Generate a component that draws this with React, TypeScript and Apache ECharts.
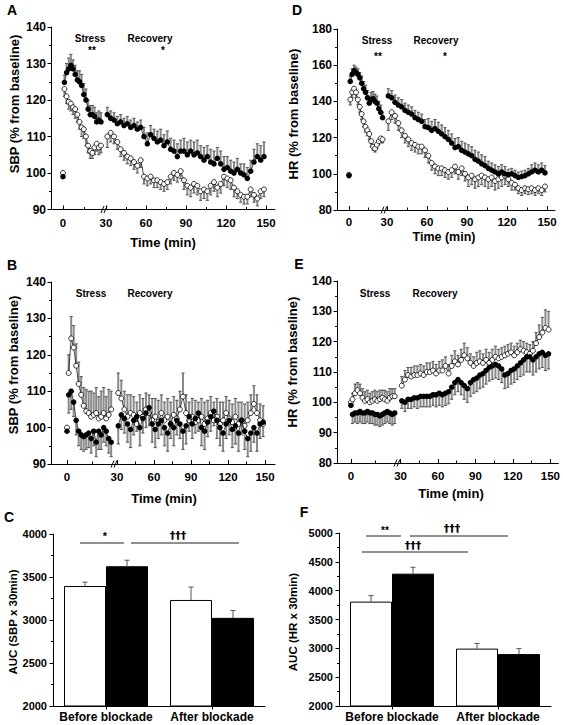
import React, { useEffect, useRef } from "react";
import * as echarts from "echarts";

const FONT = "'Liberation Sans', Arial, Helvetica, sans-serif";
const DAGGER_FONT = "'DejaVu Sans', 'Noto Sans', sans-serif";

// ---------- shared time axes (min) ----------
const stressTimes = [1, 2.5, 4, 5.5, 7, 8.5, 10, 11.5, 13, 14.5, 16, 17.5, 19, 20.5, 22, 23.5, 25, 26.5];
const recoveryTimes = [31, 33.5, 36, 38.5, 41, 43.5, 46, 48.5, 51, 53.5, 56, 58.5, 61, 63.5, 66, 68.5, 71, 73.5, 76, 78.5,
  81, 83.5, 86, 88.5, 91, 93.5, 96, 98.5, 101, 103.5, 106, 108.5, 111, 113.5, 116, 118.5, 121, 123.5, 126, 128.5,
  131, 133.5, 136, 138.5, 141, 143.5, 146, 148.5];
const timeTicks = [0, 30, 60, 90, 120, 150];
const timeMinorTicks = [15, 45, 75, 105, 135];

// ---------- Panel A: SBP before blockade ----------
const aBaseline = [100, 99]; // open, filled
const aOpenStress = [123, 121, 119.5, 119, 118, 117.5, 116, 114, 112.5, 112, 110, 107.5, 106, 105.5, 107, 108, 107, 107.5];
const aOpenStressErr = [2, 2, 2, 2, 2, 2.5, 2, 2, 2.5, 2.5, 2.5, 2, 2, 1.5, 2, 2, 2, 2];
const aFilledStress = [124.8, 127.5, 128.5, 129.5, 128.5, 127, 125.5, 125, 124, 121.5, 120, 117.5, 116, 116, 115.5, 114, 114.5, 114];
const aFilledStressErr = [2, 2.5, 3, 3, 2.5, 2.5, 2.5, 3, 3, 3, 3, 2.5, 2.5, 2.5, 2.5, 2.5, 2.5, 2.5];
const aOpenRec = [110, 111, 110, 108.5, 106.5, 105.5, 104.5, 104, 103, 102, 103.5, 99, 98.5, 99, 98, 98, 97.5, 97, 97.5, 99,
  100, 99.5, 100.5, 98, 96.5, 96, 97, 96.5, 95, 95.5, 95, 96.5, 97.5, 96, 97, 99, 98.5, 98, 96, 95,
  94, 93.5, 93.5, 95.5, 94, 93, 95, 95.5];
const aOpenRecErr = [3, 2.5, 2, 2, 2, 2, 2, 2, 2, 2, 2, 2, 2, 2, 2, 2, 2, 2, 2, 2,
  2, 2, 2, 2.5, 2.5, 2.5, 2.5, 2.5, 2.5, 2.5, 2.5, 2.5, 2.5, 2.5, 2.5, 2.5, 2.5, 2.5, 2.5, 2,
  2, 2, 2, 2, 2, 2, 2, 2];
const aFilledRec = [116, 115, 114.5, 113.5, 114, 113, 113.5, 112.5, 113, 112, 112.5, 110, 108, 110.5, 109.5, 108.5, 109, 107.5, 108.5, 106.5,
  106, 104.5, 106, 106, 105, 106, 105, 105.5, 104.5, 103.5, 104.5, 103, 102.5, 104, 102.5, 101, 101.5, 100.5, 100, 101,
  100, 99.5, 98.5, 100.5, 103, 104.5, 103.5, 104.5];
const aFilledRecErr = [2, 2, 2, 2, 2, 2, 2, 2, 2, 2, 2, 2.5, 3, 2.5, 2.5, 3, 3, 3, 3, 3,
  3, 3.5, 3, 3.5, 3.5, 3, 3.5, 3.5, 3, 3.5, 3, 3.5, 3.5, 3, 3.5, 3.5, 3, 3, 3, 3,
  2.5, 3, 3, 3, 3.5, 3.5, 4, 4];

// ---------- Panel D: HR before blockade ----------
const dBaseline = [99.5, 99];
const dOpenStress = [141, 145, 147, 145, 141, 137, 133, 129, 126, 124, 122, 118, 115, 114, 116, 118, 119.5, 119];
const dOpenStressErr = [3, 3, 3, 3, 3, 3, 3, 3, 3, 3, 3, 3, 2, 2, 2, 2, 2, 2];
const dFilledStress = [151, 155, 157, 156, 155, 153, 150, 147, 145, 142, 139, 141, 141.5, 140, 139, 136, 134, 131];
const dFilledStressErr = [3, 3, 3, 3, 3, 3, 4, 4, 4, 4, 4, 4, 4, 4, 4, 4, 4, 3];
const dOpenRec = [129, 134, 132, 128, 124, 121, 119, 117, 116, 115, 115, 113, 110, 106, 104, 103, 103, 102, 101, 102,
  104, 101, 103, 100, 98, 99, 97, 98, 99, 98, 97, 98, 96, 97, 98, 99, 97, 95, 94, 92,
  91, 92, 91.5, 92, 91, 92, 91, 93];
const dOpenRecErr = [5, 4, 4, 4, 4, 4, 4, 4, 4, 4, 4, 4, 4, 4, 4, 4, 4, 4, 4, 4,
  4, 4, 4, 4, 5, 5, 5, 5, 5, 5, 5, 5, 5, 5, 5, 5, 4, 4, 3, 3,
  3, 3, 3, 3, 3, 3, 3, 3];
const dFilledRec = [143, 142, 139.5, 138, 137, 135, 134, 133, 131, 130, 129, 126, 125.5, 124, 125, 123.5, 122, 120.5, 119, 117,
  114.5, 115, 113, 112, 111, 110, 108, 107, 105.5, 104.5, 103, 102, 101, 100, 101, 100, 99.5, 100, 99, 98,
  98.5, 99, 100, 101, 102, 101, 102, 100.5];
const dFilledRecErr = [4, 4, 4, 4, 4, 4, 4, 4, 4, 4, 4, 4, 5, 5, 5, 5, 5, 5, 5, 5,
  5, 5, 5, 5, 5, 5, 5, 5, 5, 5, 4, 4, 4, 4, 4, 4, 3, 3, 3, 3,
  3, 3, 3, 4, 4, 4, 4, 4];

// ---------- Panel B: SBP after blockade ----------
const bBaseline = [100, 99];
const bOpenStress = [115, 124.5, 122, 117, 112, 109, 106, 104.5, 104, 103, 103.5, 104, 102.5, 103, 104, 102.5, 103.5, 105];
const bOpenStressErr = [5, 6, 6, 6, 6, 5, 5, 6, 6, 7, 6, 7, 6, 7, 7, 6, 7, 5];
const bFilledStress = [109, 110, 107, 102, 99, 98, 97.5, 98, 98.5, 97, 99, 96, 99, 98, 100, 99, 97, 96];
const bFilledStressErr = [5, 5, 4, 4, 4, 4, 4, 4, 4, 4, 4, 4, 5, 4, 4, 4, 4, 4];
const bOpenRec = [109.5, 108, 105, 103, 104, 103.5, 101, 104, 103, 105, 104, 102, 103, 101.5, 104, 102, 103, 101, 103.5, 102.5,
  105, 108.5, 104, 102, 103, 101.5, 102, 103, 101, 102.5, 104, 102, 103, 101, 102, 104, 102.5, 101.5, 103, 101,
  102, 100.5, 102, 104, 106.5, 104, 102, 101];
const bOpenRecErr = [5.5, 5, 5, 6, 5, 5, 6, 5, 5, 4.5, 5, 6, 5, 6, 5, 5, 5, 6, 5, 5,
  5, 6.5, 5, 5, 5, 6, 5, 5, 6, 5, 4.5, 5, 5, 6, 5, 4.5, 5, 5, 5, 6,
  5, 6, 5, 5, 5, 5, 4.5, 5];
const bFilledRec = [100.5, 103.5, 102.5, 101, 99.5, 102, 103, 100, 102.5, 104, 105.5, 101, 99.5, 101, 102, 100, 98.5, 101, 100, 102,
  101, 99, 100.5, 103, 101, 102.5, 104, 100, 99, 101.5, 103, 104.5, 102, 100, 98.5, 101, 102, 99.5, 100.5, 98.5,
  102, 99, 97, 98.5, 100, 98.5, 101, 101.5];
const bFilledRecErr = [5, 4, 4, 5, 5, 4, 4, 5, 4, 4, 5, 5, 5, 4, 4, 5, 5, 4, 5, 4,
  4, 5, 5, 4, 4, 4, 5, 5, 5, 4, 4, 4, 5, 5, 5, 4, 4, 5, 5, 5,
  4, 5, 5, 5, 4, 5, 4, 4];

// ---------- Panel E: HR after blockade ----------
const eBaseline = [100, 99];
const eOpenStress = [101, 103, 104, 103, 101.5, 100.5, 101, 100, 100.5, 101, 100.5, 101, 101.5, 101, 100.5, 101.5, 102, 102];
const eOpenStressErr = [2, 3, 2.5, 3, 3, 3, 3, 3, 3, 3, 3, 3, 2.5, 3, 3, 3, 2.5, 2.5];
const eFilledStress = [96, 96.5, 96.5, 97, 96.5, 96.5, 97, 96.5, 96.5, 96, 96, 95.5, 96, 96.5, 97, 96.5, 96, 96.5];
const eFilledStressErr = [3, 3, 3.5, 3.5, 3.5, 3.5, 3.5, 3.5, 3.5, 3.5, 3.5, 3.5, 3.5, 3.5, 3.5, 3.5, 3.5, 3.5];
const eOpenRec = [105.5, 107.5, 109, 108.5, 109, 109, 109.5, 109, 110, 110, 110.5, 109.5, 110.5, 110.5, 112, 109.5, 112, 113.5, 112.5, 114,
  115.5, 114.5, 113, 112, 113, 113.5, 113, 114, 113, 114, 115, 114.5, 115, 115.5, 116, 116.5, 115.5, 116.5, 117.5, 117,
  116.5, 116, 117, 119.5, 121.5, 123, 124.5, 124];
const eOpenRecErr = [3, 3, 2.5, 3, 3, 3, 3, 3, 3, 3, 3, 3, 3, 3.5, 3, 3, 3.5, 3.5, 3, 3.5,
  4, 3.5, 3, 3, 3.5, 3.5, 3, 3.5, 3.5, 3.5, 3.5, 3, 3, 3, 3, 3, 3, 3, 3, 3,
  3, 3, 3, 3.5, 4, 5, 6, 6];
const eFilledRec = [100.5, 100, 101, 101, 101.5, 101.5, 102, 102, 102, 102, 102.5, 102.5, 103, 102.5, 103, 103.5, 105, 106.5, 107.5, 106.5,
  105.5, 104.5, 106.5, 107.5, 108, 109, 109.5, 110.5, 111.5, 112, 112.5, 112, 111, 109, 109.5, 110.5, 111, 112, 113, 114,
  115, 115, 114, 115, 116, 116.5, 115.5, 116];
const eFilledRecErr = [2.5, 3, 3, 3, 3, 3.5, 3.5, 3.5, 3.5, 3.5, 3.5, 4, 4, 4, 4, 4, 4, 4, 4, 4,
  4.5, 4.5, 4.5, 4.5, 4.5, 4.5, 4.5, 4.5, 4.5, 4.5, 4.5, 4.5, 4.5, 4.5, 4.5, 4.5, 4.5, 4.5, 4.5, 5,
  5, 5, 5, 5, 5, 5, 5, 5];

// ---------- Panels C & F: AUC bars ----------
const barCategories = ["Before blockade", "After blockade"];
const cWhite = [3395, 3233];
const cWhiteErr = [45, 150];
const cBlack = [3625, 3025];
const cBlackErr = [70, 85];
const fWhite = [3810, 2995];
const fWhiteErr = [105, 90];
const fBlack = [4295, 2900];
const fBlackErr = [110, 95];

type Grid = { left: number; top: number; width: number; height: number };

type LinePanel = {
  grid: Grid;
  yMin: number; yMax: number; yInterval: number;
  p0: number; p30: number; p150: number; labelMargin: number;
  base: number[];
  openStress: number[]; openStressErr: number[];
  filledStress: number[]; filledStressErr: number[];
  openRec: number[]; openRecErr: number[];
  filledRec: number[]; filledRecErr: number[];
  openDir: number; filledDir: number;
};

const linePanels: LinePanel[] = [
  {
    grid: { left: 51, top: 27, width: 224, height: 182.5 }, yMin: 90, yMax: 140, yInterval: 10,
    p0: 63, p30: 106, p150: 266, labelMargin: 7, base: aBaseline,
    openStress: aOpenStress, openStressErr: aOpenStressErr, filledStress: aFilledStress, filledStressErr: aFilledStressErr,
    openRec: aOpenRec, openRecErr: aOpenRecErr, filledRec: aFilledRec, filledRecErr: aFilledRecErr,
    openDir: -1, filledDir: 1,
  },
  {
    grid: { left: 337, top: 29, width: 218, height: 181 }, yMin: 80, yMax: 180, yInterval: 20,
    p0: 349, p30: 387, p150: 547, labelMargin: 6, base: dBaseline,
    openStress: dOpenStress, openStressErr: dOpenStressErr, filledStress: dFilledStress, filledStressErr: dFilledStressErr,
    openRec: dOpenRec, openRecErr: dOpenRecErr, filledRec: dFilledRec, filledRecErr: dFilledRecErr,
    openDir: -1, filledDir: 1,
  },
  {
    grid: { left: 51, top: 282, width: 224, height: 182 }, yMin: 90, yMax: 140, yInterval: 10,
    p0: 67, p30: 117, p150: 265, labelMargin: 7, base: bBaseline,
    openStress: bOpenStress, openStressErr: bOpenStressErr, filledStress: bFilledStress, filledStressErr: bFilledStressErr,
    openRec: bOpenRec, openRecErr: bOpenRecErr, filledRec: bFilledRec, filledRecErr: bFilledRecErr,
    openDir: 1, filledDir: -1,
  },
  {
    grid: { left: 337, top: 281, width: 223, height: 182 }, yMin: 80, yMax: 140, yInterval: 10,
    p0: 351, p30: 401, p150: 552, labelMargin: 7, base: eBaseline,
    openStress: eOpenStress, openStressErr: eOpenStressErr, filledStress: eFilledStress, filledStressErr: eFilledStressErr,
    openRec: eOpenRec, openRecErr: eOpenRecErr, filledRec: eFilledRec, filledRecErr: eFilledRecErr,
    openDir: 1, filledDir: -1,
  },
];

type BarPanel = { grid: Grid; yMin: number; yMax: number; white: number[]; whiteErr: number[]; black: number[]; blackErr: number[] };
const barPanels: BarPanel[] = [
  { grid: { left: 53, top: 534, width: 212, height: 172 }, yMin: 2000, yMax: 4000, white: cWhite, whiteErr: cWhiteErr, black: cBlack, blackErr: cBlackErr },
  { grid: { left: 339, top: 533, width: 212, height: 173 }, yMin: 2000, yMax: 5000, white: fWhite, whiteErr: fWhiteErr, black: fBlack, blackErr: fBlackErr },
];

const BAR_W = 42;

const labelStyle = { fontSize: 12, fontWeight: "bold", color: "#000", fontFamily: FONT };

function txt(text: string, x: number, y: number, size: number, rotation = 0, family = FONT) {
  return {
    type: "text", x, y, rotation, silent: true,
    style: {
      text, fontSize: size, fontWeight: "bold", fontFamily: family, fill: "#000",
      align: "center", verticalAlign: "middle", textAlign: "center", textVerticalAlign: "middle",
    },
  };
}
function ln(x1: number, y1: number, x2: number, y2: number, color = "#000", w = 1) {
  return { type: "line", silent: true, shape: { x1, y1, x2, y2 }, style: { stroke: color, lineWidth: w } };
}
function brk(x: number, y: number) {
  return [ln(x - 3, y + 3.5, x, y - 3.5), ln(x, y + 3.5, x + 3, y - 3.5)];
}

function errRender(params: any, api: any) {
  const x = api.value(0), y = api.value(1), e = api.value(2), d = api.value(3);
  const a = api.coord([x, y]);
  const b = api.coord([x, y + d * e]);
  return {
    type: "group",
    children: [
      { type: "line", shape: { x1: a[0], y1: a[1], x2: b[0], y2: b[1] }, style: { stroke: "#8a8a8a", lineWidth: 2 } },
      { type: "line", shape: { x1: b[0] - 1.6, y1: b[1], x2: b[0] + 1.6, y2: b[1] }, style: { stroke: "#444", lineWidth: 0.9 } },
    ],
  };
}

function buildOption() {
  const grids: any[] = [];
  const xAxes: any[] = [];
  const yAxes: any[] = [];
  const series: any[] = [];

  linePanels.forEach((cfg) => {
    const gi = grids.length;
    grids.push({ ...cfg.grid, containLabel: false });
    const pos = (t: number) =>
      t <= 30 ? cfg.p0 + (t * (cfg.p30 - cfg.p0)) / 30 : cfg.p30 + ((t - 30) * (cfg.p150 - cfg.p30)) / 120;
    const xMin = cfg.grid.left;
    const xMax = cfg.grid.left + cfg.grid.width;
    const tickPos = timeTicks.map(pos);
    const xi = xAxes.length;
    xAxes.push({
      type: "value", gridIndex: gi, min: xMin, max: xMax, position: "bottom",
      axisLine: { show: true, onZero: false, lineStyle: { color: "#000", width: 1 } },
      axisTick: { show: true, inside: true, length: 4, customValues: tickPos, lineStyle: { color: "#000" } },
      axisLabel: {
        show: true, customValues: tickPos, margin: cfg.labelMargin, ...labelStyle, fontSize: 11.5,
        formatter: (v: number) => {
          let best = 0;
          tickPos.forEach((p, i) => { if (Math.abs(p - v) < Math.abs(tickPos[best] - v)) best = i; });
          return String(timeTicks[best]);
        },
      },
      splitLine: { show: false },
    });
    xAxes.push({
      type: "value", gridIndex: gi, min: xMin, max: xMax, position: "top", offset: -cfg.grid.height,
      axisLine: { show: false },
      axisTick: { show: true, inside: false, length: 2.5, customValues: timeMinorTicks.map(pos), lineStyle: { color: "#000" } },
      axisLabel: { show: false },
      splitLine: { show: false },
    });
    const yi = yAxes.length;
    yAxes.push({
      type: "value", gridIndex: gi, min: cfg.yMin, max: cfg.yMax, interval: cfg.yInterval,
      axisLine: { show: true, lineStyle: { color: "#000", width: 1 } },
      axisTick: { show: true, inside: false, length: 3.5, lineStyle: { color: "#000" } },
      minorTick: { show: true, splitNumber: 2, length: 2, lineStyle: { color: "#000" } },
      splitLine: { show: false },
      minorSplitLine: { show: false },
      axisLabel: { margin: 5, ...labelStyle },
    });

    const mkErr = (stress: number[], stressErr: number[], rec: number[], recErr: number[], dir: number) => {
      const out: any[] = [];
      stressTimes.forEach((t, i) => out.push([pos(t), stress[i], stressErr[i], dir]));
      recoveryTimes.forEach((t, i) => out.push([pos(t), rec[i], recErr[i], dir]));
      return out;
    };
    const mkLine = (baseVal: number, stress: number[], rec: number[]) => {
      const out: any[] = [[pos(0), baseVal], [pos(0.5), "-"]];
      stressTimes.forEach((t, i) => out.push([pos(t), stress[i]]));
      out.push([pos(28.5), "-"]);
      recoveryTimes.forEach((t, i) => out.push([pos(t), rec[i]]));
      return out;
    };

    series.push({
      type: "custom", xAxisIndex: xi, yAxisIndex: yi, renderItem: errRender, silent: true, z: 1,
      data: mkErr(cfg.openStress, cfg.openStressErr, cfg.openRec, cfg.openRecErr, cfg.openDir),
    });
    series.push({
      type: "custom", xAxisIndex: xi, yAxisIndex: yi, renderItem: errRender, silent: true, z: 1,
      data: mkErr(cfg.filledStress, cfg.filledStressErr, cfg.filledRec, cfg.filledRecErr, cfg.filledDir),
    });
    series.push({
      type: "line", xAxisIndex: xi, yAxisIndex: yi, silent: true, z: 3,
      data: mkLine(cfg.base[0], cfg.openStress, cfg.openRec),
      symbol: "circle", symbolSize: 5, showSymbol: true, showAllSymbol: true, connectNulls: false,
      lineStyle: { color: "#000", width: 0.7 },
      itemStyle: { color: "#fff", borderColor: "#000", borderWidth: 0.8 },
    });
    series.push({
      type: "line", xAxisIndex: xi, yAxisIndex: yi, silent: true, z: 4,
      data: mkLine(cfg.base[1], cfg.filledStress, cfg.filledRec),
      symbol: "circle", symbolSize: 5.5, showSymbol: true, showAllSymbol: true, connectNulls: false,
      lineStyle: { color: "#000", width: 0.7 },
      itemStyle: { color: "#000", borderColor: "#000", borderWidth: 0 },
    });
  });

  barPanels.forEach((cfg) => {
    const gi = grids.length;
    grids.push({ ...cfg.grid, containLabel: false });
    const xi = xAxes.length;
    xAxes.push({
      type: "category", gridIndex: gi, data: barCategories, boundaryGap: true,
      axisLine: { show: true, lineStyle: { color: "#000", width: 1 } },
      axisTick: { show: true, alignWithLabel: true, inside: false, length: 3.5, lineStyle: { color: "#000" } },
      axisLabel: { margin: 5, interval: 0, hideOverlap: false, ...labelStyle },
      splitLine: { show: false },
    });
    const yi = yAxes.length;
    yAxes.push({
      type: "value", gridIndex: gi, min: cfg.yMin, max: cfg.yMax, interval: 500,
      axisLine: { show: true, lineStyle: { color: "#000", width: 1 } },
      axisTick: { show: true, inside: false, length: 3.5, lineStyle: { color: "#000" } },
      minorTick: { show: true, splitNumber: 2, length: 2, lineStyle: { color: "#000" } },
      splitLine: { show: false },
      axisLabel: { margin: 6, ...labelStyle, fontSize: 11, formatter: (v: number) => String(v) },
    });
    series.push({
      type: "bar", xAxisIndex: xi, yAxisIndex: yi, data: cfg.white, barWidth: BAR_W, barGap: "0%", silent: true,
      itemStyle: { color: "#fff", borderColor: "#000", borderWidth: 1 }, z: 2,
    });
    series.push({
      type: "bar", xAxisIndex: xi, yAxisIndex: yi, data: cfg.black, barWidth: BAR_W, barGap: "0%", silent: true,
      itemStyle: { color: "#000", borderColor: "#000", borderWidth: 1 }, z: 2,
    });
    const barErr = (vals: number[], errs: number[], off: number) => ({
      type: "custom", xAxisIndex: xi, yAxisIndex: yi, silent: true, z: 3,
      data: vals.map((v, i) => [i, v, errs[i]]),
      renderItem: (params: any, api: any) => {
        const a = api.coord([api.value(0), api.value(1)]);
        const b = api.coord([api.value(0), api.value(1) + api.value(2)]);
        const x = a[0] + off;
        return {
          type: "group",
          children: [
            { type: "line", shape: { x1: x, y1: a[1], x2: x, y2: b[1] }, style: { stroke: "#555", lineWidth: 1 } },
            { type: "line", shape: { x1: x - 2.5, y1: b[1], x2: x + 2.5, y2: b[1] }, style: { stroke: "#555", lineWidth: 1 } },
          ],
        };
      },
    });
    series.push(barErr(cfg.white, cfg.whiteErr, -BAR_W / 2));
    series.push(barErr(cfg.black, cfg.blackErr, BAR_W / 2));
  });

  const dag = "\u2020\u2020\u2020";
  const graphic: any[] = [
    // panel letters
    txt("A", 12, 10, 14), txt("D", 297, 10, 14), txt("B", 12, 265, 14),
    txt("E", 299, 264, 14), txt("C", 9, 517, 14), txt("F", 304, 512, 14),
    // y axis titles
    txt("SBP (% from baseline)", 14, 104, 13, Math.PI / 2),
    txt("HR (% from baseline)", 293, 114, 13, Math.PI / 2),
    txt("SBP (% from baseline)", 13, 365, 13, Math.PI / 2),
    txt("HR (% from baseline)", 292, 362, 13, Math.PI / 2),
    txt("AUC (SBP x 30min)", 13, 622, 11.5, Math.PI / 2),
    txt("AUC (HR x 30min)", 293, 622, 11.5, Math.PI / 2),
    // x axis titles
    txt("Time (min)", 163, 242, 13), txt("Time (min)", 444, 236.5, 12.5),
    txt("Time (min)", 164, 498, 13), txt("Time (min)", 451, 493, 13),
    // stress / recovery annotations
    txt("Stress", 90, 38, 10), txt("**", 92, 50, 10), txt("Recovery", 150, 38, 10), txt("*", 163, 50, 10),
    txt("Stress", 377, 40, 10), txt("**", 378, 56, 10), txt("Recovery", 436, 40, 10), txt("*", 445, 56, 10),
    txt("Stress", 91, 293, 10), txt("Recovery", 150, 293, 10),
    txt("Stress", 375, 293, 10), txt("Recovery", 435, 293, 10),
    // axis breaks
    ...brk(104, 209.5), ...brk(384, 210), ...brk(114, 464), ...brk(397, 463),
    // significance brackets C
    ln(80, 543, 124, 543, "#222"), txt("*", 105, 536, 11),
    ln(131, 543, 239, 543, "#222"), txt(dag, 178, 535, 11, 0, DAGGER_FONT),
    // significance brackets F
    ln(366, 536, 401, 536, "#222"), txt("**", 385, 530, 10),
    ln(410, 536, 508, 536, "#222"), txt(dag, 452, 528, 11, 0, DAGGER_FONT),
    ln(362, 552, 468, 552, "#222"), txt(dag, 413, 545, 11, 0, DAGGER_FONT),
  ];

  return {
    animation: false,
    backgroundColor: "#fff",
    grid: grids,
    xAxis: xAxes,
    yAxis: yAxes,
    series,
    graphic,
  };
}

export default function App() {
  const ref = useRef<HTMLDivElement>(null);
  useEffect(() => {
    if (!ref.current) return;
    const chart = echarts.init(ref.current, undefined, { renderer: "svg" });
    chart.setOption(buildOption() as any);
    return () => chart.dispose();
  }, []);
  return (
    <div
      ref={ref}
      style={{ position: "absolute", left: 0, top: 0, width: 563, height: 725, background: "#fff" }}
    />
  );
}
